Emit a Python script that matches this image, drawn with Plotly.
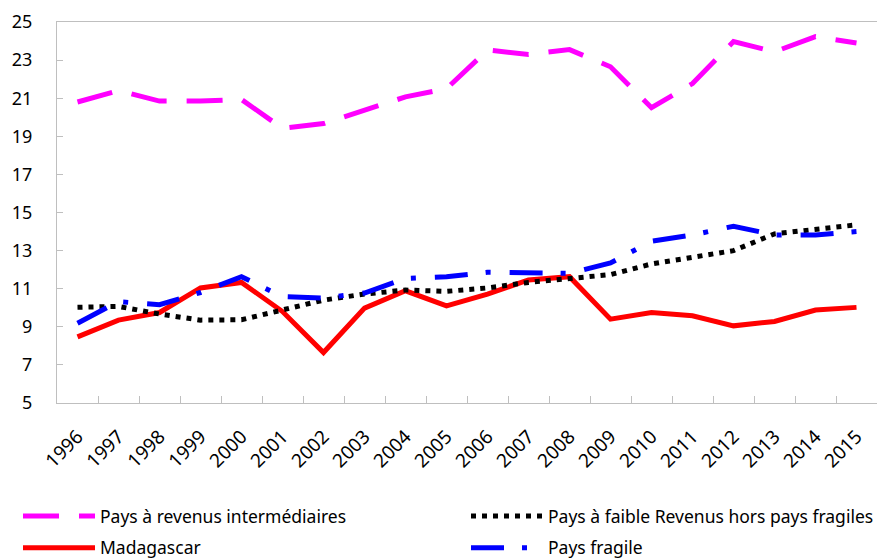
import plotly.graph_objects as go

# Data
years = [str(y) for y in range(1996, 2016)]

pays_intermediaires = [20.8, 21.4, 20.85, 20.85, 20.93, 19.42, 19.67, 20.35, 21.07, 21.5,
                       23.53, 23.3, 23.55, 22.65, 20.5, 21.77, 23.97, 23.44, 24.23, 23.9]
pays_faible_revenu = [10.02, 10.07, 9.67, 9.35, 9.37, 9.87, 10.4, 10.72, 10.93, 10.86,
                      11.04, 11.33, 11.56, 11.74, 12.3, 12.65, 13.0, 13.88, 14.14, 14.35]
madagascar = [8.47, 9.35, 9.75, 11.04, 11.33, 9.8, 7.65, 9.98, 10.89, 10.1,
              10.72, 11.46, 11.63, 9.4, 9.75, 9.58, 9.05, 9.28, 9.88, 10.02]
pays_fragile = [9.19, 10.32, 10.16, 10.8, 11.63, 10.58, 10.51, 10.77, 11.54, 11.63,
                11.86, 11.81, 11.81, 12.35, 13.49, 13.82, 14.28, 13.82, 13.82, 14.0]

y_ticks = list(range(5, 26, 2))

FONT = "Noto Sans"
AXIS_GREY = "#BFBFBF"

fig = go.Figure()
# left legend column
fig.add_trace(go.Scatter(
    x=years, y=pays_intermediaires, mode="lines",
    name="Pays à revenus intermédiaires",
    legend="legend", legendgroup="a", legendrank=1,
    line=dict(color="#FF00FF", width=5, dash="36px,20px"),
))
fig.add_trace(go.Scatter(
    x=years, y=madagascar, mode="lines",
    name="Madagascar",
    legend="legend", legendgroup="b", legendrank=2,
    line=dict(color="#FF0000", width=5),
))
# right legend column
fig.add_trace(go.Scatter(
    x=years, y=pays_faible_revenu, mode="lines",
    name="Pays à faible Revenus hors pays fragiles",
    legend="legend2", legendgroup="c", legendrank=1,
    line=dict(color="#000000", width=5, dash="5px,6px"),
))
fig.add_trace(go.Scatter(
    x=years, y=pays_fragile, mode="lines",
    name="Pays fragile",
    legend="legend2", legendgroup="d", legendrank=2,
    line=dict(color="#0000FF", width=5, dash="33px,18px,5px,19px"),
))

legend_style = dict(
    orientation="v",
    xref="container", yref="container",
    xanchor="left", yanchor="top",
    y=1 - 498 / 560,
    font=dict(family=FONT, size=17.5),
    itemwidth=72,
    tracegroupgap=6,
    bgcolor="rgba(0,0,0,0)",
)

fig.update_layout(
    width=877, height=560,
    margin=dict(l=57, r=0, t=22, b=157, autoexpand=False),
    paper_bgcolor="white",
    plot_bgcolor="white",
    font=dict(family=FONT, size=17, color="#000000"),
    showlegend=True,
    legend=dict(legend_style, x=18 / 877),
    legend2=dict(legend_style, x=466 / 877),
    xaxis=dict(
        type="category",
        range=[-0.5, 19.5],
        tickangle=-45,
        tickson="boundaries",
        ticks="inside",
        ticklen=7,
        tickcolor=AXIS_GREY,
        showline=True, linecolor=AXIS_GREY, linewidth=1, mirror=True,
        showgrid=False,
        automargin=False,
        ticklabelstandoff=14,
        tickfont=dict(family=FONT, size=19),
    ),
    yaxis=dict(
        range=[5, 25],
        tickvals=y_ticks,
        ticks="inside",
        ticklen=6,
        tickcolor=AXIS_GREY,
        showline=True, linecolor=AXIS_GREY, linewidth=1, mirror=True,
        showgrid=False, zeroline=False,
        automargin=False,
        ticklabelstandoff=20,
        tickfont=dict(family=FONT, size=18),
    ),
)

# the page body has a default margin; drop it so the figure fills the window
fig.write_html(
    "out.html",
    config={"displayModeBar": False},
    post_script="document.body.style.margin='0px';",
)
